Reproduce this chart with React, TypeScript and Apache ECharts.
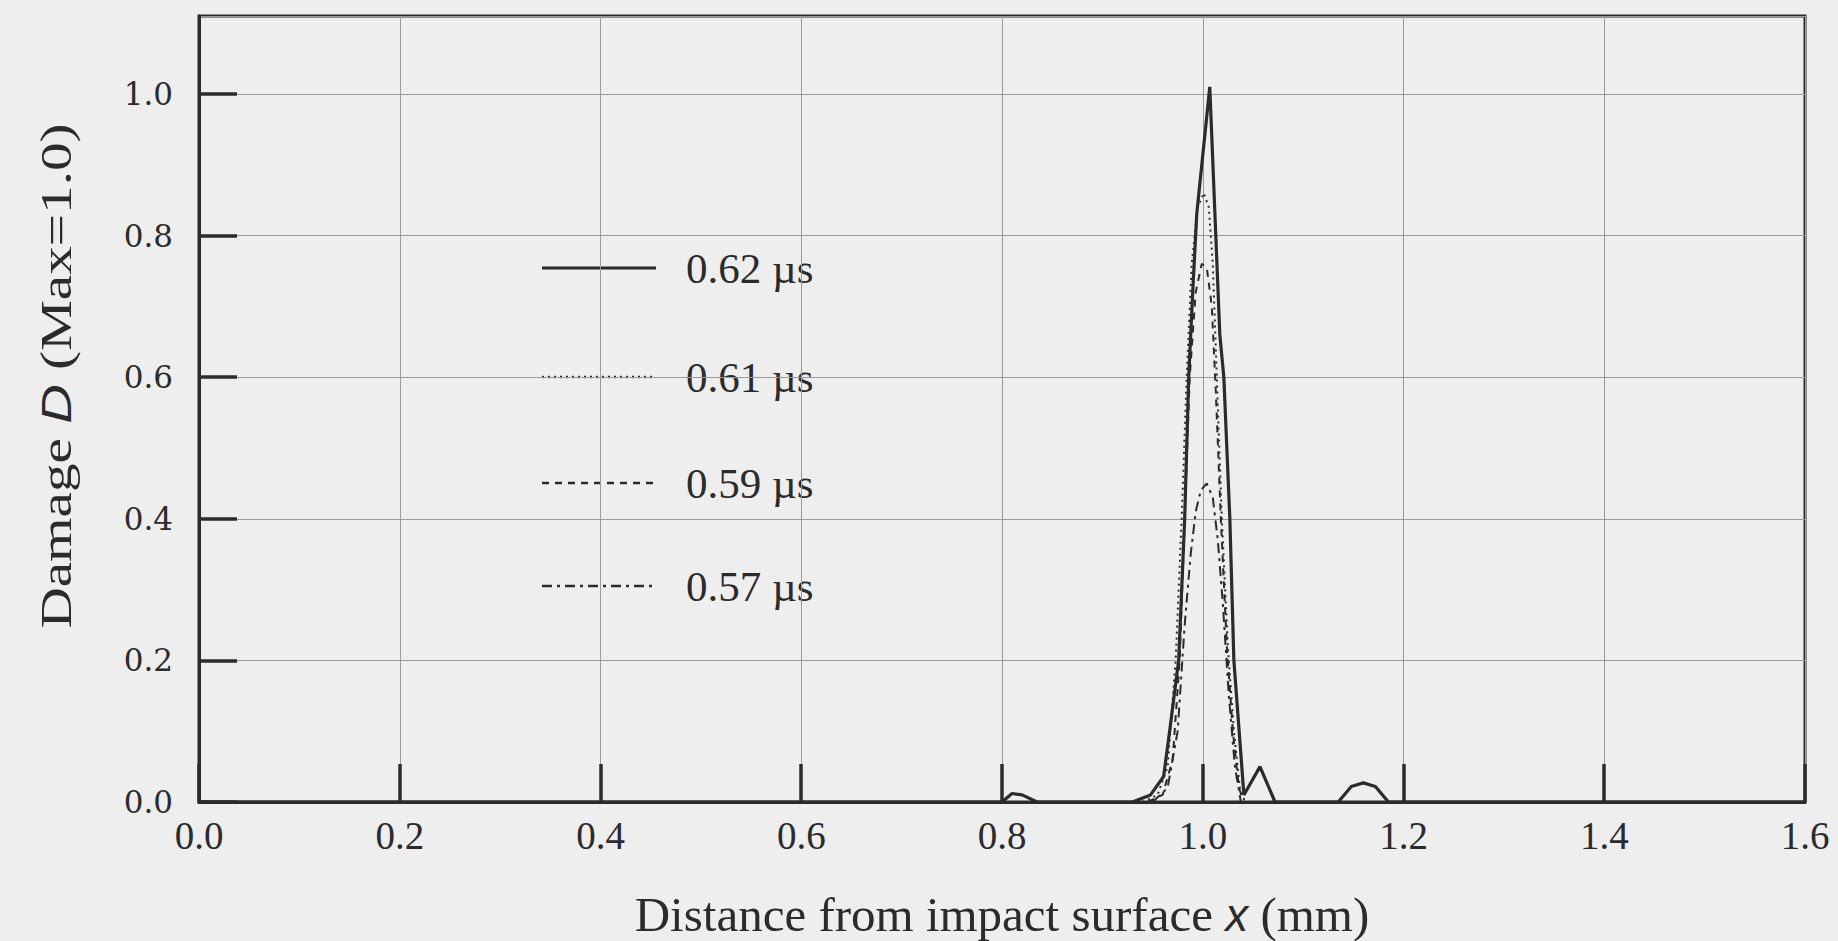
import React, { useEffect, useRef } from "react";
import * as echarts from "echarts";

// Distance from impact surface x (mm) / damage D pairs
const s062x = [0, 0.8, 0.81, 0.82, 0.835, 0.93, 0.948, 0.961, 0.967, 0.976, 0.982, 0.986, 0.99, 0.994, 1.007, 1.013, 1.017, 1.021, 1.027, 1.031, 1.041, 1.057, 1.072, 1.135, 1.148, 1.16, 1.172, 1.185, 1.6];
const s062y = [0, 0, 0.012, 0.01, 0, 0, 0.01, 0.036, 0.1, 0.2, 0.4, 0.6, 0.72, 0.83, 1.01, 0.8, 0.66, 0.6, 0.4, 0.2, 0.01, 0.05, 0, 0, 0.022, 0.027, 0.022, 0, 0];

const s061x = [0.94, 0.955, 0.965, 0.973, 0.979, 0.984, 0.989, 0.995, 1.001, 1.006, 1.01, 1.014, 1.019, 1.025, 1.031, 1.037, 1.042];
const s061y = [0, 0.01, 0.05, 0.2, 0.4, 0.6, 0.76, 0.84, 0.86, 0.84, 0.76, 0.6, 0.4, 0.22, 0.1, 0.02, 0];

const s059x = [0.945, 0.96, 0.97, 0.977, 0.982, 0.987, 0.993, 0.999, 1.004, 1.009, 1.013, 1.018, 1.024, 1.03, 1.036, 1.041];
const s059y = [0, 0.01, 0.06, 0.2, 0.4, 0.6, 0.72, 0.76, 0.755, 0.7, 0.58, 0.4, 0.22, 0.1, 0.02, 0];

const s057x = [0.95, 0.965, 0.975, 0.982, 0.988, 0.993, 0.998, 1.004, 1.01, 1.015, 1.02, 1.026, 1.032, 1.038];
const s057y = [0, 0.02, 0.1, 0.25, 0.35, 0.41, 0.44, 0.45, 0.43, 0.37, 0.28, 0.15, 0.05, 0];

const seriesNames = ["0.62 µs", "0.61 µs", "0.59 µs", "0.57 µs"];
const xTicks = [0, 0.2, 0.4, 0.6, 0.8, 1.0, 1.2, 1.4, 1.6];
const yTicks = [0, 0.2, 0.4, 0.6, 0.8, 1.0];

const zip = (xs: number[], ys: number[]) => xs.map((x, i) => [x, ys[i]]);

const INK = "#2b2a2c";
const BG = "#efeeef";
const SERIF = "'Liberation Serif', 'Times New Roman', serif";
const SANS = "'Liberation Sans', Arial, sans-serif";

const dashes: (number[] | "solid")[] = ["solid", [2, 4], [7, 6], [10, 5, 3, 5]];
const widths = [3.2, 2, 2, 2];

export default function App() {
  const ref = useRef<HTMLDivElement>(null);
  useEffect(() => {
    document.body.style.margin = "0";
    document.body.style.background = BG;
    const chart = echarts.init(ref.current!, null, { renderer: "svg" });
    const datasets = [zip(s062x, s062y), zip(s061x, s061y), zip(s059x, s059y), zip(s057x, s057y)];
    const legendY = [268, 377, 483, 586];
    const legendGraphics: any[] = [];
    seriesNames.forEach((n, i) => {
      legendGraphics.push({
        type: "line",
        shape: { x1: 542, y1: legendY[i], x2: 656, y2: legendY[i] },
        style: { stroke: INK, lineWidth: i === 0 ? 3 : 2.5, lineDash: dashes[i] === "solid" ? null : (dashes[i] as number[]) },
      });
      legendGraphics.push({
        type: "text",
        x: 686,
        y: legendY[i],
        style: { text: n, fontFamily: SERIF, fontSize: 43, fill: INK, verticalAlign: "middle", align: "left" },
      });
    });
    chart.setOption({
      animation: false,
      backgroundColor: BG,
      grid: {
        left: 199,
        right: 33,
        top: 16,
        bottom: 139,
        outerBoundsMode: "none",
        containLabel: false,
        show: true,
        borderColor: INK,
        borderWidth: 3,
        backgroundColor: "transparent",
      },
      xAxis: {
        type: "value",
        min: 0,
        max: 1.6,
        interval: 0.2,
        axisLine: { show: true, lineStyle: { color: INK, width: 3 } },
        axisTick: { show: true, inside: true, length: 38, lineStyle: { color: INK, width: 3.5 } },
        splitLine: { show: true, lineStyle: { color: "#9a999b", width: 1 } },
        axisLabel: {
          margin: 14,
          fontFamily: SERIF,
          fontSize: 39,
          color: INK,
          formatter: (v: number) => (xTicks.some((t) => Math.abs(t - v) < 1e-6) ? v.toFixed(1) : ""),
        },
        name: "{a|Distance from impact surface }{b|x}{a| (mm)}",
        nameLocation: "middle",
        nameGap: 88,
        nameTextStyle: {
          rich: {
            a: { fontFamily: SERIF, fontSize: 49, color: INK },
            b: { fontFamily: SANS, fontStyle: "italic", fontSize: 46, color: INK },
          },
        },
      },
      yAxis: {
        type: "value",
        min: 0,
        max: 1.11,
        interval: 0.2,
        axisLine: { show: true, lineStyle: { color: INK, width: 3 } },
        axisTick: { show: true, inside: true, length: 38, lineStyle: { color: INK, width: 3.5 } },
        splitLine: { show: true, lineStyle: { color: "#9a999b", width: 1 } },
        axisLabel: {
          margin: 26,
          fontFamily: "'DejaVu Serif', serif",
          fontSize: 31,
          color: INK,
          showMaxLabel: false,
          formatter: (v: number) => (yTicks.some((t) => Math.abs(t - v) < 1e-6) ? v.toFixed(1) : ""),
        },
      },
      graphic: [
        {
          type: "text",
          x: 56,
          y: 376,
          rotation: Math.PI / 2,
          scaleX: 1.3,
          style: {
            text: "{a|Damage }{b|D}{a| (Max=1.0)}",
            align: "center",
            verticalAlign: "middle",
            rich: {
              a: { fontFamily: SERIF, fontSize: 44, fill: INK },
              b: { fontFamily: SANS, fontStyle: "italic", fontSize: 42, fill: INK },
            },
          },
        },
        ...legendGraphics,
      ],
      series: datasets.map((d, i) => ({
        name: seriesNames[i],
        type: "line",
        data: d,
        showSymbol: false,
        symbol: "none",
        lineStyle: { color: INK, width: widths[i], type: dashes[i] },
        z: 10 - i,
      })),
    });
    return () => chart.dispose();
  }, []);
  return <div ref={ref} style={{ width: 1838, height: 941 }} />;
}
